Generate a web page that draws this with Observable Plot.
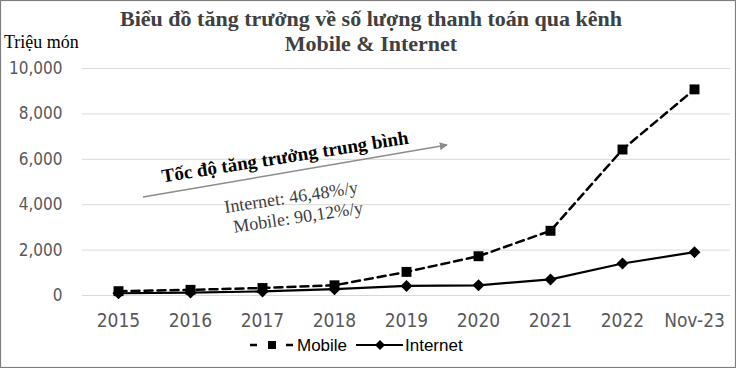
<!DOCTYPE html>
<html>
<head>
<meta charset="utf-8">
<script src="https://cdn.jsdelivr.net/npm/d3@7"></script>
<script src="https://cdn.jsdelivr.net/npm/@observablehq/plot@0.6"></script>
<style>
  html, body { margin: 0; padding: 0; background: #fff; }
  #chart svg { display: block; }
</style>
</head>
<body>
<div id="chart"></div>
<script>
const categories = ["2015", "2016", "2017", "2018", "2019", "2020", "2021", "2022", "Nov-23"];
const mobile = [190, 250, 330, 450, 1040, 1730, 2850, 6430, 9080];
const internet = [100, 130, 180, 280, 420, 450, 710, 1410, 1910];
const yTicks = [0, 2000, 4000, 6000, 8000, 10000];
const seriesNames = ["Mobile", "Internet"];
const titleLines = ["Biểu đồ tăng trưởng về số lượng thanh toán qua kênh", "Mobile & Internet"];
const yUnit = "Triệu món";
const noteTitle = "Tốc độ tăng trưởng trung bình";
const noteLines = ["Internet: 46,48%/y", "Mobile: 90,12%/y"];

const mobileData = categories.map((c, i) => ({cat: c, value: mobile[i]}));
const internetData = categories.map((c, i) => ({cat: c, value: internet[i]}));

const axisFont = "'DejaVu Sans Condensed', 'DejaVu Sans', sans-serif";

const svg = Plot.plot({
  width: 736,
  height: 368,
  marginTop: 68,
  marginBottom: 73,
  marginLeft: 82,
  marginRight: 6,
  style: {background: "#fff", overflow: "visible"},
  x: {type: "point", domain: categories, padding: 0.5, label: null},
  y: {domain: [0, 10000], label: null},
  marks: [
    Plot.ruleY(yTicks, {stroke: "#d9d9d9", strokeWidth: 1}),
    Plot.axisY({ticks: yTicks, tickSize: 0, tickPadding: 20, tickFormat: d3.format(","), fill: "#595959", fontSize: 17, fontFamily: axisFont, label: null}),
    Plot.axisX({tickSize: 0, tickPadding: 18, fill: "#595959", fontSize: 19, fontFamily: axisFont, label: null}),
    Plot.line(mobileData, {x: "cat", y: "value", stroke: "black", strokeWidth: 2.5, strokeDasharray: "8,5"}),
    Plot.dot(mobileData, {x: "cat", y: "value", symbol: "square", r: 5.6, fill: "black", stroke: "none"}),
    Plot.line(internetData, {x: "cat", y: "value", stroke: "black", strokeWidth: 2.2}),
    Plot.dot(internetData, {x: "cat", y: "value", symbol: "diamond2", r: 5.4, fill: "black", stroke: "none"})
  ]
});

const s = d3.select(svg);
// frame border
s.append("rect").attr("x", 0.5).attr("y", 0.5).attr("width", 735).attr("height", 367)
  .attr("fill", "none").attr("stroke", "#7f7f7f").attr("stroke-width", 1.2);

// title
const serif = "'Liberation Serif', 'Times New Roman', serif";
titleLines.forEach((t, i) => {
  s.append("text").attr("x", 371).attr("y", 26 + i * 25)
    .attr("text-anchor", "middle").attr("font-family", serif)
    .attr("font-weight", "bold").attr("font-size", 22).attr("fill", "#404040").text(t);
});
s.append("text").attr("x", 4).attr("y", 48).attr("text-anchor", "start").attr("font-family", serif)
  .attr("font-size", 18).attr("fill", "#000").text(yUnit);

// annotation arrow
const defs = s.append("defs");
defs.append("marker").attr("id", "arr").attr("viewBox", "0 0 10 10").attr("refX", 9).attr("refY", 5)
  .attr("markerWidth", 8).attr("markerHeight", 8).attr("markerUnits", "userSpaceOnUse").attr("orient", "auto")
  .append("path").attr("d", "M0,0 L10,5 L0,10 Z").attr("fill", "#8c8c8c");
s.append("line").attr("x1", 143).attr("y1", 197).attr("x2", 447).attr("y2", 145)
  .attr("stroke", "#8c8c8c").attr("stroke-width", 1.5).attr("marker-end", "url(#arr)");

s.append("text").attr("transform", "translate(286,163) rotate(-9)")
  .attr("text-anchor", "middle").attr("font-family", serif).attr("font-weight", "bold")
  .attr("font-size", 19).attr("fill", "#000").text(noteTitle);
noteLines.forEach((t, i) => {
  s.append("text").attr("transform", `translate(${292 + i * 7},${203 + i * 20}) rotate(-8.5)`)
    .attr("text-anchor", "middle").attr("font-family", serif)
    .attr("font-size", 18).attr("fill", "#404040").text(t);
});

// legend
const lg = s.append("g").attr("font-family", "'Liberation Sans', Arial, sans-serif").attr("font-size", 17).attr("text-anchor", "start");
lg.append("line").attr("x1", 250).attr("x2", 296).attr("y1", 345).attr("y2", 345)
  .attr("stroke", "black").attr("stroke-width", 2.5).attr("stroke-dasharray", "7,11");
lg.append("rect").attr("x", 268).attr("y", 341).attr("width", 8).attr("height", 8).attr("fill", "black");
lg.append("text").attr("x", 297).attr("y", 351).attr("fill", "#000").text(seriesNames[0]);
lg.append("line").attr("x1", 356).attr("x2", 403).attr("y1", 345).attr("y2", 345)
  .attr("stroke", "black").attr("stroke-width", 2);
lg.append("path").attr("d", "M380,340 L385,345 L380,350 L375,345 Z").attr("fill", "black");
lg.append("text").attr("x", 405).attr("y", 351).attr("fill", "#000").text(seriesNames[1]);

document.getElementById("chart").appendChild(svg);
</script>
</body>
</html>
